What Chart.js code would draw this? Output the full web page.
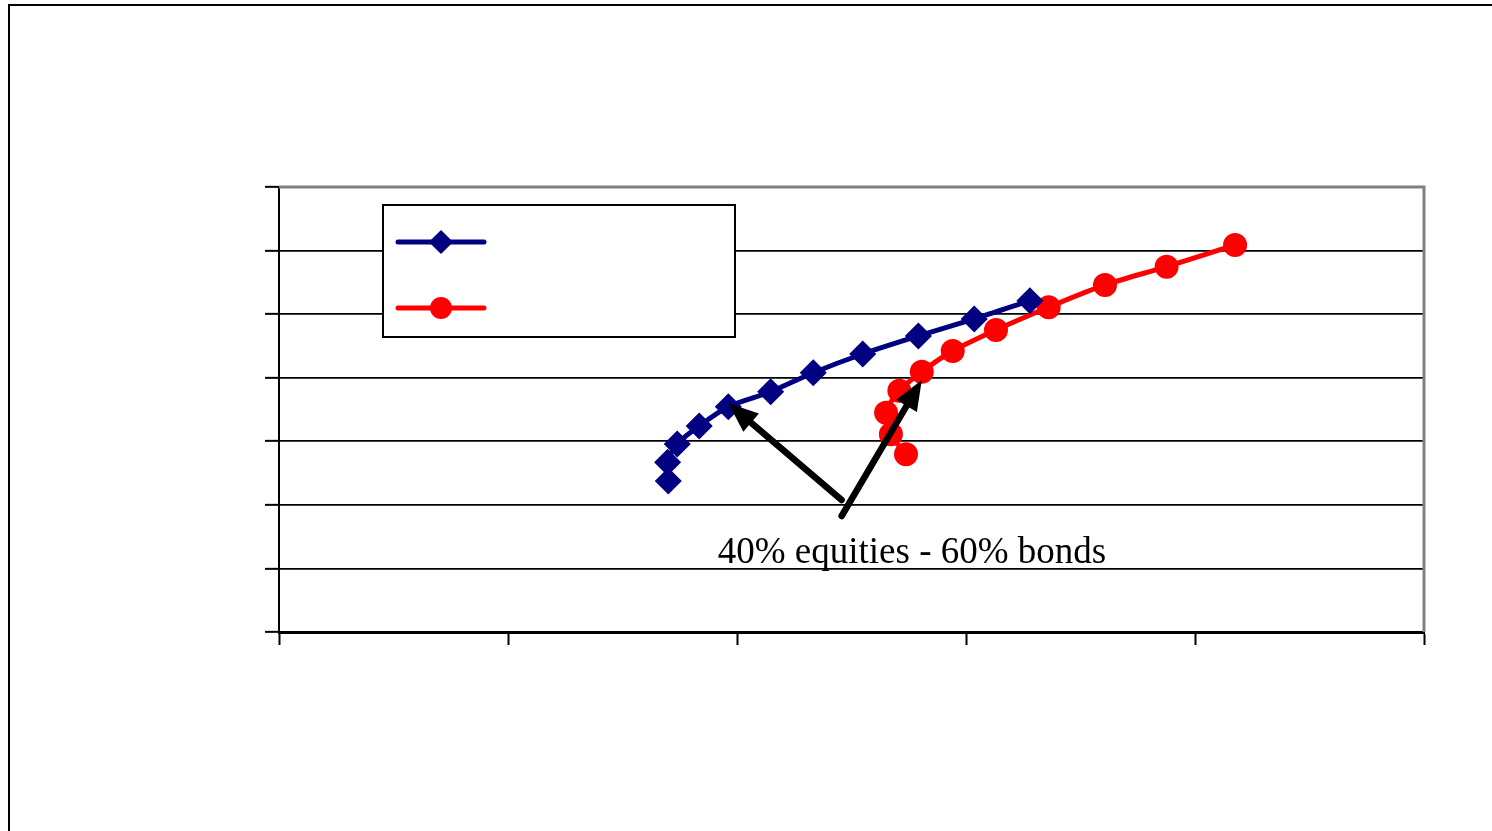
<!DOCTYPE html>
<html>
<head>
<meta charset="utf-8">
<script src="https://cdn.jsdelivr.net/npm/chart.js@4.4.1/dist/chart.umd.min.js"></script>
<style>
    html, body { margin: 0; padding: 0; background: #fff; }
    #wrap { position: relative; width: 1492px; height: 831px; overflow: hidden; }
    #frame {
        position: absolute; left: 8px; top: 4px; width: 1600px; height: 900px;
        border-left: 2px solid #000; border-top: 2px solid #000;
    }
    canvas { position: absolute; left: 0; top: 0; }
</style>
</head>
<body>
<div id="wrap">
    <div id="frame"></div>
    <canvas id="chart" width="1492" height="831"></canvas>
</div>
<script>
// --- Data (risk on x, return on y; axes carry no labels in the original) ---
const equityBondRisk   = [1.700, 1.697, 1.739, 1.835, 1.962, 2.147, 2.333, 2.549, 2.792, 3.036, 3.279];
const equityBondReturn = [2.375, 2.670, 2.957, 3.240, 3.544, 3.780, 4.079, 4.373, 4.656, 4.924, 5.212];

const secondRisk   = [2.738, 2.672, 2.651, 2.709, 2.807, 2.942, 3.131, 3.361, 3.607, 3.876, 4.175];
const secondReturn = [2.795, 3.110, 3.450, 3.796, 4.095, 4.420, 4.751, 5.108, 5.459, 5.747, 6.088];

const xTicks = [0, 1, 2, 3, 4, 5];
const yTicks = [0, 1, 2, 3, 4, 5, 6, 7];

const noteText = '40% equities - 60% bonds';
const notePos = { x: 2.764, y: 1.085 };
// arrows: tail -> tip, in data units
const noteArrows = [
    { from: { x: 2.457, y: 2.077 }, to: { x: 1.962, y: 3.598 } },
    { from: { x: 2.457, y: 1.825 }, to: { x: 2.807, y: 3.964 } }
];

const BLUE = '#000080';
const RED = '#ff0000';

const toPoints = (xs, ys) => xs.map((x, i) => ({ x, y: ys[i] }));

// gray top / right plot border
const plotFrame = {
    id: 'plotFrame',
    beforeDatasetsDraw(chart) {
        const { ctx, chartArea: a } = chart;
        ctx.save();
        ctx.strokeStyle = '#808080';
        ctx.lineWidth = 3;
        ctx.beginPath();
        ctx.moveTo(a.left, a.top);
        ctx.lineTo(a.right, a.top);
        ctx.lineTo(a.right, a.bottom);
        ctx.stroke();
        ctx.restore();
    }
};

const drawArrow = (ctx, x1, y1, x2, y2) => {
    const ang = Math.atan2(y2 - y1, x2 - x1);
    const headLen = 30, headHalf = 12;
    const bx = x2 - Math.cos(ang) * headLen;
    const by = y2 - Math.sin(ang) * headLen;
    ctx.beginPath();
    ctx.moveTo(x1, y1);
    ctx.lineTo(bx, by);
    ctx.stroke();
    ctx.beginPath();
    ctx.moveTo(x2, y2);
    ctx.lineTo(bx + Math.sin(ang) * headHalf, by - Math.cos(ang) * headHalf);
    ctx.lineTo(bx - Math.sin(ang) * headHalf, by + Math.cos(ang) * headHalf);
    ctx.closePath();
    ctx.fill();
};

// annotation text + arrows, and the label-less legend box
const overlay = {
    id: 'overlay',
    afterDatasetsDraw(chart) {
        const { ctx, chartArea: a, scales } = chart;
        const sx = scales.x, sy = scales.y;
        ctx.save();

        ctx.strokeStyle = '#000';
        ctx.fillStyle = '#000';
        ctx.lineWidth = 6.5;
        ctx.lineCap = 'round';
        noteArrows.forEach(ar => drawArrow(ctx,
            sx.getPixelForValue(ar.from.x), sy.getPixelForValue(ar.from.y),
            sx.getPixelForValue(ar.to.x), sy.getPixelForValue(ar.to.y)));

        ctx.font = '37px "Liberation Serif", "Times New Roman", serif';
        ctx.textAlign = 'center';
        ctx.textBaseline = 'alphabetic';
        ctx.fillText(noteText, sx.getPixelForValue(notePos.x), sy.getPixelForValue(notePos.y));

        // legend
        const lx = a.left + 104, ly = a.top + 18, lw = 352, lh = 132;
        ctx.fillStyle = '#fff';
        ctx.fillRect(lx, ly, lw, lh);
        ctx.strokeStyle = '#000';
        ctx.lineWidth = 2;
        ctx.lineCap = 'butt';
        ctx.strokeRect(lx, ly, lw, lh);

        chart.data.datasets.forEach((ds, i) => {
            const y = ly + 37 + i * 66;
            const x0 = lx + 15, x1 = lx + 101, xm = (x0 + x1) / 2;
            ctx.strokeStyle = ds.borderColor;
            ctx.lineWidth = ds.borderWidth;
            ctx.lineCap = 'round';
            ctx.beginPath();
            ctx.moveTo(x0, y);
            ctx.lineTo(x1, y);
            ctx.stroke();
            ctx.fillStyle = ds.pointBackgroundColor;
            ctx.strokeStyle = ds.pointBorderColor;
            ctx.lineWidth = 3;
            Chart.helpers.drawPoint(ctx, {
                pointStyle: ds.pointStyle, radius: ds.pointRadius, borderWidth: 3, rotation: 0
            }, xm, y);
        });
        ctx.restore();
    }
};

document.addEventListener('DOMContentLoaded', () => {
    const ctx = document.getElementById('chart');

    new Chart(ctx, {
        type: 'line',
        data: {
            datasets: [
                {
                    label: '',
                    data: toPoints(equityBondRisk, equityBondReturn),
                    borderColor: BLUE,
                    backgroundColor: BLUE,
                    pointBackgroundColor: BLUE,
                    pointBorderColor: BLUE,
                    pointStyle: 'rectRot',
                    pointRadius: 10,
                    borderWidth: 5,
                    tension: 0.3
                },
                {
                    label: '',
                    data: toPoints(secondRisk, secondReturn),
                    borderColor: RED,
                    backgroundColor: RED,
                    pointBackgroundColor: RED,
                    pointBorderColor: RED,
                    pointStyle: 'circle',
                    pointRadius: 9.5,
                    borderWidth: 5,
                    tension: 0.3
                }
            ]
        },
        options: {
            responsive: false,
            animation: false,
            events: [],
            layout: { padding: { left: 265, right: 68, top: 187, bottom: 186 } },
            plugins: {
                legend: { display: false },
                tooltip: { enabled: false }
            },
            scales: {
                x: {
                    type: 'linear',
                    min: xTicks[0],
                    max: xTicks[xTicks.length - 1],
                    afterBuildTicks: axis => { axis.ticks = xTicks.map(v => ({ value: v })); },
                    ticks: { display: false },
                    grid: { drawOnChartArea: false, drawTicks: true, tickLength: 13, tickColor: '#000', tickWidth: 2 },
                    border: { color: '#000', width: 3 }
                },
                y: {
                    type: 'linear',
                    min: yTicks[0],
                    max: yTicks[yTicks.length - 1],
                    afterBuildTicks: axis => { axis.ticks = yTicks.map(v => ({ value: v })); },
                    ticks: { display: false },
                    grid: {
                        color: c => (c.tick && c.tick.value === yTicks[yTicks.length - 1]) ? 'rgba(0,0,0,0)' : '#000',
                        lineWidth: 1.7,
                        drawTicks: true,
                        tickLength: 14,
                        tickColor: '#000',
                        tickWidth: 2
                    },
                    border: { color: '#000', width: 2 }
                }
            }
        },
        plugins: [plotFrame, overlay]
    });
});
</script>
</body>
</html>
